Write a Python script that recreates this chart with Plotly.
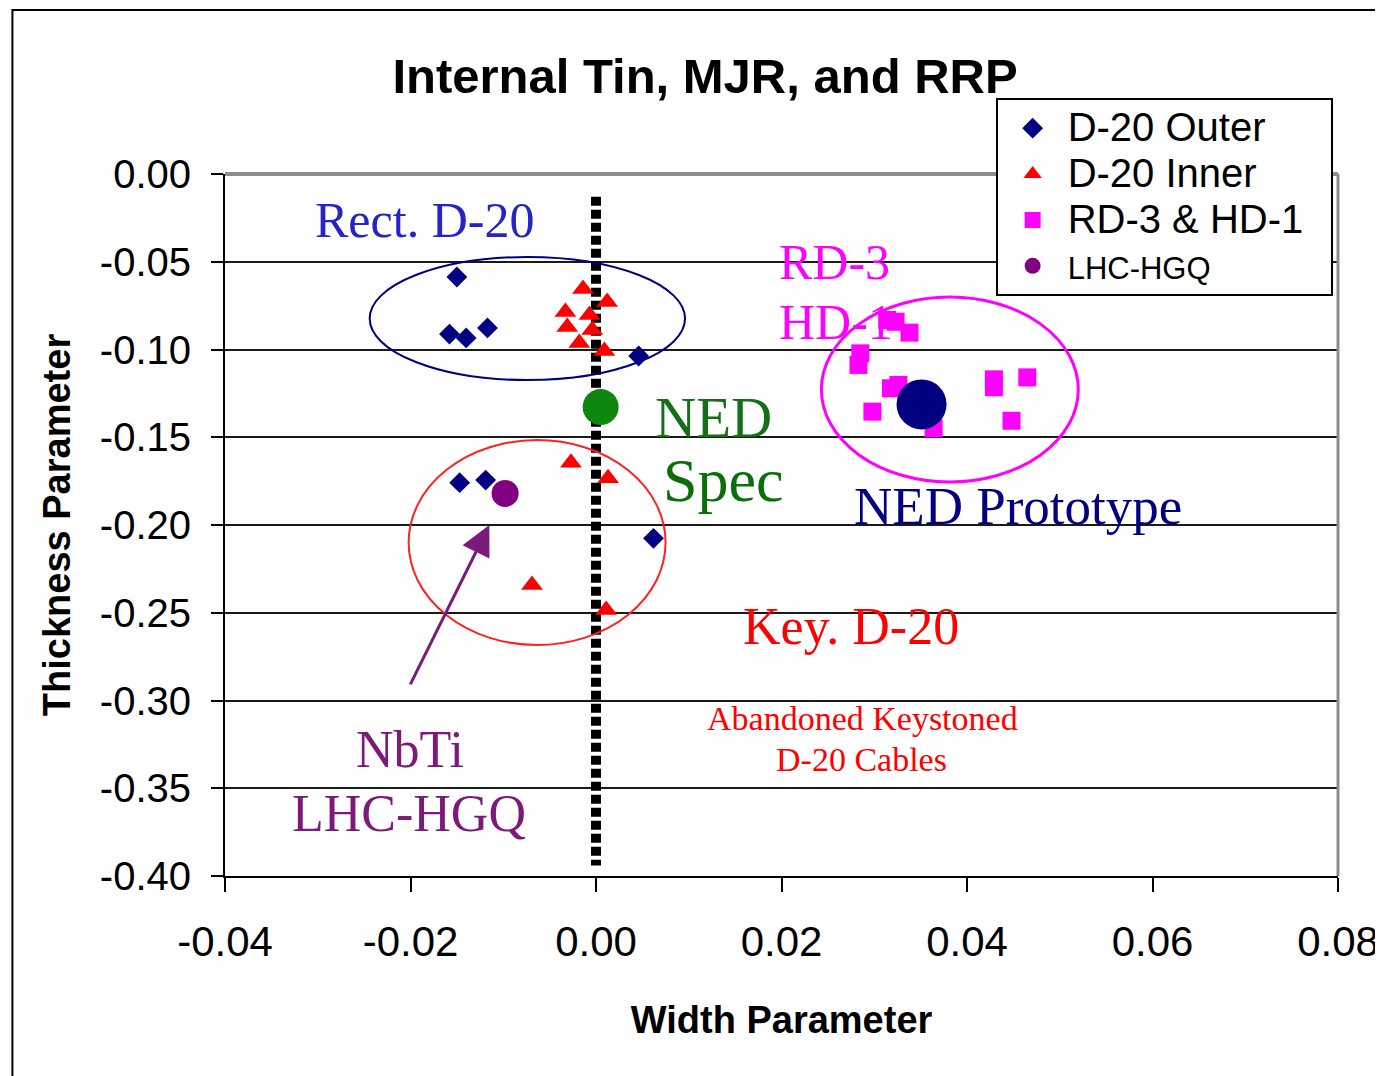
import plotly.graph_objects as go

# ---------------- data ----------------
outer_x = [-0.0150, -0.0158, -0.0140, -0.0117, 0.0046, -0.0147, -0.0119, 0.0062]
outer_y = [-0.0587, -0.0912, -0.0934, -0.0877, -0.1037, -0.1759, -0.1744, -0.2076]

inner_x = [-0.0014, 0.0012, -0.0033, -0.0007, -0.0031, -0.0004, -0.0018, 0.0009,
           -0.0027, 0.0013, -0.0069, 0.0011]
inner_y = [-0.0655, -0.0729, -0.0786, -0.0803, -0.0872, -0.0889, -0.0963, -0.1009,
           -0.1645, -0.1734, -0.2342, -0.2484]

rd_x = [0.0314, 0.0323, 0.0338, 0.0285, 0.0283, 0.0318, 0.0326, 0.0298, 0.0364,
        0.0429, 0.0429, 0.0465, 0.0448]
rd_y = [-0.0832, -0.0842, -0.0904, -0.1022, -0.1088, -0.1221, -0.1202, -0.1354, -0.1449,
        -0.1170, -0.1215, -0.1159, -0.1406]

lhc_x = [-0.0098]
lhc_y = [-0.1820]

proto_x = [0.0351]
proto_y = [-0.1313]

spec_x = [0.0005]
spec_y = [-0.1328]

spec_line_x = [0.0, 0.0]
spec_line_y = [-0.013, -0.394]

y_ticks = [0.0, -0.05, -0.10, -0.15, -0.20, -0.25, -0.30, -0.35, -0.40]
y_tick_labels = ["0.00", "-0.05", "-0.10", "-0.15", "-0.20", "-0.25", "-0.30", "-0.35", "-0.40"]
x_ticks = [-0.04, -0.02, 0.0, 0.02, 0.04, 0.06, 0.08]
x_tick_labels = ["-0.04", "-0.02", "0.00", "0.02", "0.04", "0.06", "0.08"]

SERIF = "Liberation Serif, Times New Roman, serif"
SANS = "Liberation Sans, Arial, sans-serif"


def legend_name(text, px, pad=0):
    return f'<span style="font-size:{px}px">{text}{chr(160) * pad}</span>'


fig = go.Figure()

fig.add_trace(go.Scatter(x=spec_line_x, y=spec_line_y, mode="lines", showlegend=False,
                         line=dict(color="black", width=10, dash="9px,4px"), hoverinfo="skip"))

fig.add_trace(go.Scatter(x=outer_x, y=outer_y, mode="markers", name=legend_name("D-20 Outer", 40),
                         marker=dict(symbol="diamond", size=16, color="#000080")))
fig.add_trace(go.Scatter(x=inner_x, y=inner_y, mode="markers", name=legend_name("D-20 Inner", 40),
                         marker=dict(symbol="triangle-up", size=19, color="#ff0000")))
fig.add_trace(go.Scatter(x=rd_x, y=rd_y, mode="markers",
                         name=legend_name("RD-3 &amp; HD-1", 40, pad=2),
                         marker=dict(symbol="square", size=18, color="#ff00ff")))
fig.add_trace(go.Scatter(x=lhc_x, y=lhc_y, mode="markers", name=legend_name("LHC-HGQ", 31),
                         marker=dict(symbol="circle", size=27, color="#800080")))
fig.add_trace(go.Scatter(x=proto_x, y=proto_y, mode="markers", showlegend=False,
                         marker=dict(symbol="circle", size=50, color="#000080")))
fig.add_trace(go.Scatter(x=spec_x, y=spec_y, mode="markers", showlegend=False,
                         marker=dict(symbol="circle", size=36, color="#0f870f")))

shapes = [
    # ellipses
    dict(type="circle", xref="x", yref="y", x0=-0.0244, x1=0.0096, y0=-0.0473, y1=-0.1174,
         line=dict(color="#000080", width=2)),
    dict(type="circle", xref="x", yref="y", x0=-0.0202, x1=0.0075, y0=-0.1516, y1=-0.2684,
         line=dict(color="#ff2020", width=2)),
    dict(type="circle", xref="x", yref="y", x0=0.0243, x1=0.0520, y0=-0.0701, y1=-0.1755,
         line=dict(color="#ff00ff", width=3)),
    # plot frame top/right (gray)
    dict(type="line", xref="paper", yref="paper", x0=0, x1=1, y0=1, y1=1,
         line=dict(color="#8c8c8c", width=4)),
    dict(type="line", xref="paper", yref="paper", x0=1, x1=1, y0=0, y1=1,
         line=dict(color="#8c8c8c", width=3)),
    # outer frame
    dict(type="rect", xref="paper", yref="paper", x0=-0.191, x1=1.06, y0=-0.32, y1=1.2335,
         line=dict(color="black", width=2), layer="below"),
]


def ann(text, x, y, color, size, family=SERIF, xanchor="center"):
    return dict(text=text, x=x, y=y, xref="x", yref="y", showarrow=False,
                xanchor=xanchor, yanchor="middle",
                font=dict(family=family, size=size, color=color))


annotations = [
    ann("Rect. D-20", -0.0185, -0.0262, "#2424c8", 50),
    ann("RD-3", 0.0195, -0.0501, "#ff00ff", 50, xanchor="left"),
    ann("HD-1", 0.0195, -0.0843, "#ff00ff", 50, xanchor="left"),
    ann("NED", 0.0127, -0.1385, "#157015", 57),
    ann("Spec", 0.0137, -0.1745, "#0a6e0a", 62),
    ann("NED Prototype", 0.0455, -0.1892, "#000080", 53),
    ann("Key. D-20", 0.0275, -0.2581, "#ff0000", 52),
    ann("Abandoned Keystoned", 0.0287, -0.3100, "#ff0000", 34),
    ann("D-20 Cables", 0.0286, -0.3339, "#ff0000", 34),
    ann("NbTi", -0.0201, -0.3282, "#7b1a7b", 52),
    ann("LHC-HGQ", -0.0202, -0.3641, "#7b1a7b", 52),
    # arrow pointing to LHC-HGQ point
    dict(text="", x=-0.0115, y=-0.2000, ax=-0.0201, ay=-0.2917, xref="x", yref="y",
         axref="x", ayref="y", showarrow=True, arrowhead=2, arrowsize=2.0, arrowwidth=3,
         arrowcolor="#7b1a7b"),
]

fig.update_layout(
    width=1383, height=1076,
    margin=dict(l=217, r=51, t=166, b=208),
    paper_bgcolor="white", plot_bgcolor="white",
    title=dict(text="<b>Internal Tin, MJR, and RRP</b>", x=0.504, xanchor="center",
               y=0.937, yanchor="middle",
               font=dict(family=SANS, size=49, color="black")),
    xaxis=dict(range=[-0.04, 0.08], tickvals=x_ticks, ticktext=x_tick_labels,
               showgrid=False, zeroline=False, showline=True, linecolor="black", linewidth=2,
               ticks="outside", ticklen=14, tickwidth=2, tickcolor="black",
               ticklabelstandoff=14, ticklabeloverflow="allow",
               tickfont=dict(family=SANS, size=42, color="black"),
               title=dict(text="<b>Width Parameter</b>", standoff=42,
                          font=dict(family=SANS, size=38, color="black"))),
    yaxis=dict(range=[-0.40, 0.0], tickvals=y_ticks, ticktext=y_tick_labels,
               showgrid=True, gridcolor="#1a1a1a", gridwidth=2, zeroline=False,
               showline=True, linecolor="black", linewidth=2,
               ticks="outside", ticklen=12, tickwidth=2, tickcolor="black",
               ticklabelstandoff=12,
               tickfont=dict(family=SANS, size=40, color="black"),
               title=dict(text="<b>Thickness Parameter</b>", standoff=18,
                          font=dict(family=SANS, size=38, color="black"))),
    legend=dict(x=0.6924, y=1.108, xanchor="left", yanchor="top",
                bgcolor="white", bordercolor="black", borderwidth=2,
                font=dict(family=SANS, size=33, color="black"),
                itemsizing="trace", itemwidth=60, tracegroupgap=0),
    shapes=shapes,
    annotations=annotations,
)

fig.write_html("out.html")
